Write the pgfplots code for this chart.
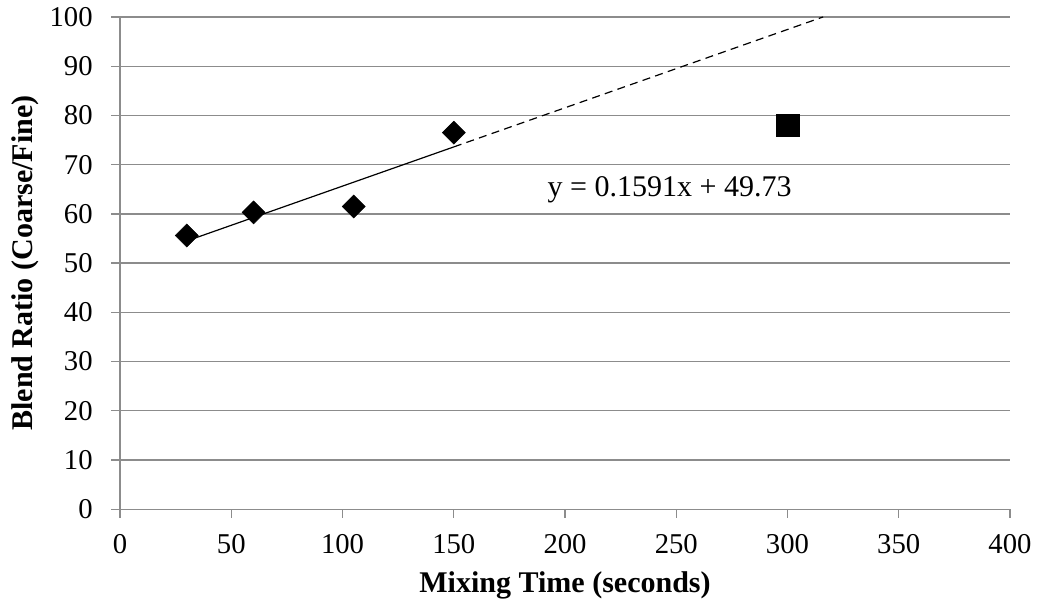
\documentclass[border=0pt]{standalone}
\usepackage{pgfplots}
\pgfplotsset{compat=1.18}
\usetikzlibrary{calc}
\usepackage{fontspec}
\setmainfont{Liberation Serif}
\definecolor{gridgray}{RGB}{140,140,140}
\begin{document}
\begin{tikzpicture}
\begin{axis}[
  name=ax,
  scale only axis,
  width=667pt, height=369pt,
  xmin=0, xmax=400, ymin=0, ymax=100,
  xtick={0,50,...,400}, ytick={0,10,...,100},
  axis x line*=bottom, axis y line*=left,
  axis line style={gridgray, line width=1pt},
  tick style={gridgray, line width=1pt},
  tick align=outside, major tick length=6.5pt,
  ymajorgrids, grid style={gridgray, line width=1pt},
  /pgf/number format/assume math mode=true,
  ticklabel style={font=\fontsize{21.5}{25}\selectfont},
  xticklabel style={yshift=-8.5pt},
  yticklabel style={xshift=-10.5pt},
  clip=false,
]
\addplot[black, line width=0.9pt, forget plot] coordinates {(30,54.50) (150,73.60)};
\addplot[black, line width=0.9pt, dashed, dash pattern=on 6pt off 4pt, forget plot] coordinates {(150,73.60) (316,100)};
\addplot[only marks, mark=square*, mark size=6.1pt, mark options={rotate=45, fill=black, draw=black}] coordinates {
(30,55.6) (60,60.3) (105,61.5) (150,76.5)};
\addplot[only marks, mark=square*, mark size=8.5pt, mark options={fill=black, draw=black}] coordinates {(300,78)};
\node[font=\fontsize{22.5}{27}\selectfont] at (axis cs:247,64.8) {y = 0.1591x + 49.73};
\end{axis}
\node[font=\fontsize{22.5}{27}\selectfont\bfseries] at ($(ax.south)+(0,-57pt)$) {Mixing Time (seconds)};
\node[font=\fontsize{22.5}{27}\selectfont\bfseries, rotate=90] at ($(ax.west)+(-71pt,0)$) {Blend Ratio (Coarse/Fine)};
\pgfresetboundingbox
\path ($(ax.south west)+(-90pt,-77pt)$) rectangle ($(ax.north east)+(22.5pt,12.7pt)$);
\end{tikzpicture}
\end{document}
